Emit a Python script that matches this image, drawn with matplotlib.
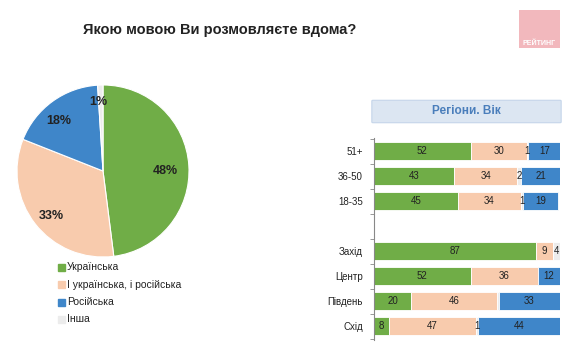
import matplotlib
matplotlib.use("Agg")
import matplotlib.pyplot as plt
from matplotlib.patches import FancyBboxPatch, Rectangle

plt.rcParams['font.family'] = ['Liberation Sans', 'DejaVu Sans']

title = "Якою мовою Ви розмовляєте вдома?"
pie_labels = ["Українська", "І українська, і російська", "Російська", "Інша"]
pie_values = [48, 33, 18, 1]
c_ukr, c_both, c_rus, c_other = "#70ad47", "#f8cbad", "#3f86c9", "#ececec"
pie_colors = [c_ukr, c_both, c_rus, c_other]

categories = ["51+", "36-50", "18-35", "Захід", "Центр", "Південь", "Схід"]
cat_pos = [0, 1, 2, 4, 5, 6, 7]
ukr = [52, 43, 45, 87, 52, 20, 8]
both = [30, 34, 34, 9, 36, 46, 47]
other = [1, 2, 1, 4, 0, 1, 1]
rus = [17, 21, 19, 1, 12, 33, 44]
show_label = [[True]*7, [True]*7, [True, True, True, True, False, False, True], [True, True, True, False, True, True, True]]

W, H = 579, 360
fig = plt.figure(figsize=(W/100, H/100), dpi=100)

fig.text(220/W, 1-30/H, title, ha='center', va='center', fontsize=10.5, fontweight='bold', color='#222222')

# logo
lax = fig.add_axes([519/W, 1-48/H, 41/W, 38/H])
lax.set_xlim(0, 1); lax.set_ylim(0, 1); lax.axis('off')
lax.add_patch(Rectangle((0, 0), 1, 1, color='#f2b8bd'))
lax.text(0.5, 0.12, "РЕЙТИНГ", ha='center', va='center', color='white', fontsize=5, fontweight='bold')

# pie
cx, cy, r = 103, 171, 86
pax = fig.add_axes([(cx-r)/W, 1-(cy+r)/H, 2*r/W, 2*r/H])
wedges, _ = pax.pie(pie_values, colors=pie_colors, startangle=90, counterclock=False,
                    wedgeprops=dict(edgecolor='white', linewidth=0.8))
pax.set_xlim(-1, 1); pax.set_ylim(-1, 1); pax.set_aspect('auto')
label_pos = [(0.73, 0.0), (-0.6, -0.52), (-0.51, 0.58), (-0.05, 0.8)]
for (x, y), v in zip(label_pos, pie_values):
    pax.text(x, y, f"{v}%", ha='center', va='center', fontsize=9, fontweight='bold', color='#222222')

# legend
for i, (lab, c) in enumerate(zip(pie_labels, pie_colors)):
    y = 267 + i * 17.5
    fig.patches.append(Rectangle((58/W, 1-(y+3.5)/H), 7/W, 7/H, transform=fig.transFigure, color=c, figure=fig))
    fig.text(67/W, 1-y/H, lab, ha='left', va='center', fontsize=7.5, color='#222222')

# header box
fig.patches.append(FancyBboxPatch((373/W, 1-122/H), 187/W, 21/H, boxstyle="round,pad=0.002",
                                  transform=fig.transFigure, facecolor='#dce6f2', edgecolor='#c5d5ea',
                                  linewidth=0.8, figure=fig))
fig.text(466/W, 1-111/H, "Регіони. Вік", ha='center', va='center', fontsize=8.5, fontweight='bold', color='#4a7ebb')

# bars
bax = fig.add_axes([374/W, 1-340/H, 186/W, 202/H])
series = [ukr, both, other, rus]
bar_colors = [c_ukr, c_both, c_other, c_rus]
left = [0]*len(categories)
for s_i, (vals, c) in enumerate(zip(series, bar_colors)):
    bax.barh(cat_pos, vals, left=left, height=0.72, color=c, edgecolor='white', linewidth=0.6)
    for j, (p, v, l) in enumerate(zip(cat_pos, vals, left)):
        if v > 0 and show_label[s_i][j]:
            bax.text(l + v/2, p, str(v), ha='center', va='center', fontsize=7, color='#222222')
    left = [a + b for a, b in zip(left, vals)]
bax.set_xlim(0, 100)
bax.set_ylim(7.56, -0.52)
bax.set_xticks([])
bax.set_yticks(cat_pos)
bax.set_yticklabels(categories, fontsize=7, color='#222222')
bax.tick_params(axis='y', which='major', length=0, pad=8)
bax.set_yticks([-0.5, 0.5, 1.5, 2.5, 3.5, 4.5, 5.5, 6.5, 7.5], minor=True)
bax.tick_params(axis='y', which='minor', length=3, color='#888888')
for sp in ['top', 'right', 'bottom']:
    bax.spines[sp].set_visible(False)
bax.spines['left'].set_color('#888888')
bax.spines['left'].set_linewidth(0.8)
bax.set_facecolor('none')

fig.savefig("out.png", dpi=100)
